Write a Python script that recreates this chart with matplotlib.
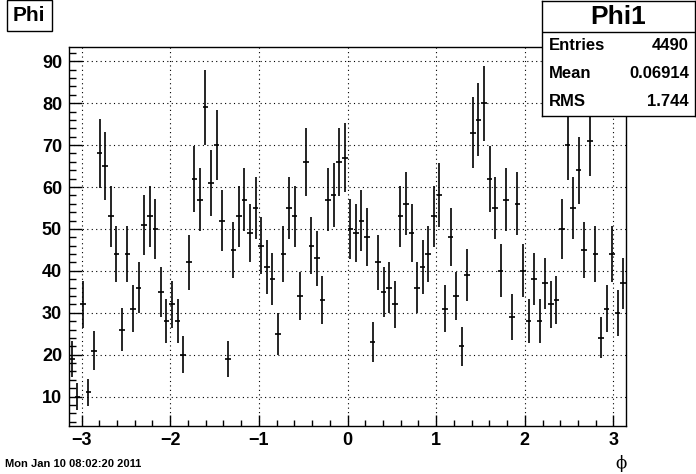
import numpy as np
import matplotlib
matplotlib.use('Agg')
import matplotlib.pyplot as plt
from matplotlib.ticker import MultipleLocator

# Phi histogram, 100 bins over [-pi, pi]
n_bins = 100
x_min, x_max = -np.pi, np.pi
counts = [
    19, 10, 32, 11, 21, 68, 65, 53, 44, 26, 44, 31, 36, 51, 53, 50, 35, 28, 32, 28,
    20, 42, 62, 57, 79, 61, 70, 52, 19, 45, 53, 57, 49, 55, 46, 41, 38, 25, 44, 55,
    53, 34, 66, 46, 43, 33, 57, 58, 66, 67, 50, 49, 52, 48, 23, 42, 35, 36, 32, 53,
    56, 49, 36, 41, 44, 53, 58, 31, 48, 34, 22, 39, 73, 76, 80, 62, 55, 40, 57, 29,
    56, 40, 28, 38, 28, 37, 32, 33, 50, 70, 55, 64, 45, 71, 44, 24, 31, 44, 30, 37,
]
x_ticks = [-3, -2, -1, 0, 1, 2, 3]
y_ticks = [10, 20, 30, 40, 50, 60, 70, 80, 90]

hist_name = "Phi"
stat_title = "Phi1"
stat_rows = [("Entries", "4490"), ("Mean", "0.06914"), ("RMS", "1.744")]
date_text = "Mon Jan 10 08:02:20 2011"

plt.rcParams['font.family'] = ['Liberation Sans', 'DejaVu Sans']

edges = np.linspace(x_min, x_max, n_bins + 1)
centers = 0.5 * (edges[:-1] + edges[1:])
counts = np.array(counts, dtype=float)
errors = np.sqrt(counts)
half_w = 0.5 * (edges[1] - edges[0])

W, H = 696, 474
fig = plt.figure(figsize=(W / 100, H / 100), dpi=100)
fig.patch.set_facecolor('white')

# axes frame in pixel coordinates
left, right, top, bottom = 69, 626, 47, 426
ax = fig.add_axes([left / W, 1 - bottom / H, (right - left) / W, (bottom - top) / H])

ax.errorbar(centers, counts, xerr=half_w, yerr=errors, fmt='none',
            ecolor='black', elinewidth=1.2, capsize=0)

ax.set_xlim(x_min, x_max)
ax.set_ylim(3.0, 93.4)

ax.set_xticks(x_ticks)
ax.set_yticks(y_ticks)
ax.xaxis.set_minor_locator(MultipleLocator(0.2))
ax.yaxis.set_minor_locator(MultipleLocator(2))
ax.tick_params(axis='both', which='both', direction='in', color='black', width=1)
ax.tick_params(axis='x', which='major', length=8, pad=4, labelsize=13)
ax.tick_params(axis='x', which='minor', length=4)
ax.tick_params(axis='y', which='major', length=9, pad=5, labelsize=13)
ax.tick_params(axis='y', which='minor', length=5)
for lab in ax.get_xticklabels() + ax.get_yticklabels():
    lab.set_fontweight('bold')

ax.grid(True, which='major', linestyle=(0, (1, 3)), color='black', linewidth=0.8)
for sp in ax.spines.values():
    sp.set_linewidth(1.0)
    sp.set_color('black')

# title box "Phi"
fig.text(29 / W, 1 - 15.5 / H, hist_name, ha='center', va='center', fontsize=15,
         fontweight='bold',
         bbox=dict(boxstyle='square,pad=0.3', facecolor='white', edgecolor='black', linewidth=1))

# stat box
bx0, bx1, by0, by1, sep = 542, 695, 1, 116, 32
box_ax = fig.add_axes([bx0 / W, 1 - by1 / H, (bx1 - bx0) / W, (by1 - by0) / H])
box_ax.set_xlim(0, bx1 - bx0)
box_ax.set_ylim(by1 - by0, 0)
box_ax.set_xticks([])
box_ax.set_yticks([])
for sp in box_ax.spines.values():
    sp.set_linewidth(1.0)
box_ax.axhline(sep - by0, color='black', linewidth=1.0)
box_ax.text((bx1 - bx0) / 2, (sep - by0) / 2 + 1, stat_title, ha='center', va='center',
            fontsize=19, fontweight='bold')
row_y = [46, 74, 102]
for (name, val), ry in zip(stat_rows, row_y):
    box_ax.text(7, ry - by0, name, ha='left', va='center', fontsize=12, fontweight='bold')
    box_ax.text(bx1 - bx0 - 6, ry - by0, val, ha='right', va='center', fontsize=12,
                fontweight='bold')

# date stamp and x axis label
fig.text(5 / W, 1 - 464 / H, date_text, ha='left', va='center', fontsize=8, fontweight='bold')
fig.text(621 / W, 1 - 463 / H, "\u03d5", ha='center', va='center', fontsize=12,
         family=['DejaVu Serif'])

fig.savefig('out.png', dpi=100)
